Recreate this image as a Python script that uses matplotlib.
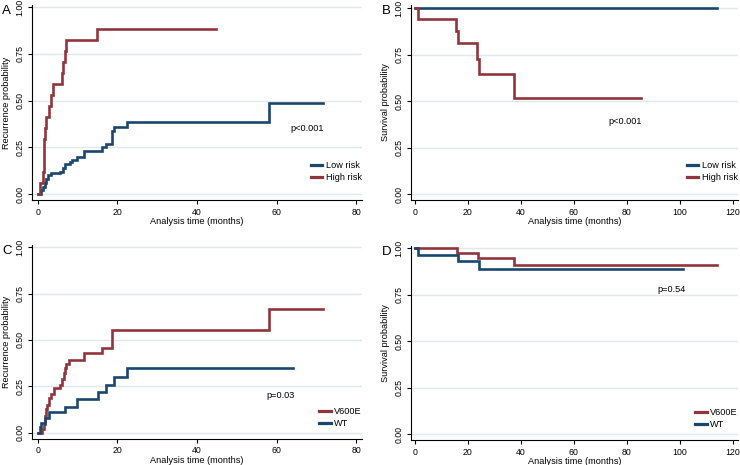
import matplotlib
matplotlib.use("Agg")
import matplotlib.pyplot as plt
from matplotlib.lines import Line2D

plt.rcParams['font.family'] = ['Liberation Sans', 'DejaVu Sans']

NAVY = "#1a476f"
MAROON = "#90353b"
GRID = "#dfe8ea"

# ---------------- Data ----------------
# Panel A: recurrence by risk group
a_low_t = [0, 0.8, 1.3, 1.7, 2.1, 2.6, 3.4, 5.5, 6.3, 6.9, 8.0, 8.6, 9.7, 11.5, 16.2, 17.0, 18.5, 18.7, 19.1, 22.5, 58.2]
a_low_v = [0, 0.02, 0.04, 0.06, 0.08, 0.10, 0.11, 0.12, 0.14, 0.16, 0.17, 0.18, 0.20, 0.23, 0.25, 0.27, 0.31, 0.34, 0.36, 0.385, 0.49]
a_low_end = 71.6
a_high_t = [0, 0.6, 1.2, 1.4, 1.5, 1.6, 1.7, 1.9, 2.8, 3.4, 3.9, 6.0, 6.3, 6.9, 7.1, 14.9]
a_high_v = [0, 0.059, 0.118, 0.176, 0.235, 0.294, 0.353, 0.412, 0.471, 0.529, 0.588, 0.647, 0.706, 0.765, 0.824, 0.882]
a_high_end = 44.9

# Panel B: survival by risk group
b_low_t = [0]
b_low_v = [1.0]
b_low_end = 114
b_high_t = [0, 1.3, 15.5, 16.4, 23.5, 24.2, 37.4]
b_high_v = [1.0, 0.941, 0.876, 0.811, 0.73, 0.649, 0.519]
b_high_end = 85.3

# Panel C: recurrence by BRAF status
c_v600e_t = [0, 1.1, 1.4, 1.7, 1.9, 2.3, 2.7, 3.4, 4.0, 5.5, 6.1, 6.6, 6.9, 7.1, 7.8, 11.5, 16.0, 18.7, 58.2]
c_v600e_v = [0, 0.02, 0.05, 0.09, 0.13, 0.15, 0.19, 0.21, 0.24, 0.26, 0.29, 0.32, 0.35, 0.37, 0.39, 0.43, 0.455, 0.555, 0.665]
c_v600e_end = 71.6
c_wt_t = [0, 0.4, 0.7, 1.7, 2.9, 6.9, 9.7, 15.1, 17.0, 19.1, 22.3]
c_wt_v = [0, 0.03, 0.055, 0.08, 0.11, 0.14, 0.18, 0.22, 0.26, 0.30, 0.35]
c_wt_end = 64.2

# Panel D: survival by BRAF status
d_v600e_t = [0, 15.7, 23.8, 37.4]
d_v600e_v = [1.0, 0.972, 0.944, 0.91]
d_v600e_end = 114
d_wt_t = [0, 1.3, 16.4, 24.2]
d_wt_v = [1.0, 0.965, 0.929, 0.889]
d_wt_end = 101.4

yticks = [0, 0.25, 0.5, 0.75, 1.0]
ytick_labels = ["0.00", "0.25", "0.50", "0.75", "1.00"]

# ---------------- Figure ----------------
W, H = 740, 465
fig = plt.figure(figsize=(W / 100, H / 100), dpi=100)

FS_TICK = 6.3
FS_LAB = 6.6


def px_axes(left, right, top, bottom):
    return fig.add_axes([left / W, 1 - bottom / H, (right - left) / W, (bottom - top) / H])


def km(ax, t, v, end, color, label):
    xs = list(t) + [end]
    ys = list(v) + [v[-1]]
    ax.step(xs, ys, where='post', color=color, lw=1.9, label=label, solid_joinstyle='miter')


def style(ax, xlim, ylim, xticks, ylabel, letter):
    ax.set_xlim(*xlim)
    ax.set_ylim(*ylim)
    ax.set_yticks(yticks)
    ax.set_yticklabels(ytick_labels, rotation=90, va='center', fontsize=FS_TICK)
    ax.set_xticks(xticks)
    ax.set_xticklabels([str(x) for x in xticks], fontsize=FS_TICK)
    for s in ['top', 'right']:
        ax.spines[s].set_visible(False)
    for s in ['left', 'bottom']:
        ax.spines[s].set_linewidth(0.8)
    ax.tick_params(direction='out', length=3, width=0.8, pad=2.6)
    ax.grid(axis='y', color=GRID, lw=1.0)
    ax.set_axisbelow(True)
    ax.set_ylabel(ylabel, fontsize=FS_LAB, labelpad=3)
    ax.set_xlabel("Analysis time (months)", fontsize=FS_LAB, labelpad=0.5)
    ax.text(-0.09, 1.0, letter, transform=ax.transAxes, fontsize=9.5, va='top', ha='left')


def legend(ax, handles, ybot):
    ax.legend(handles=handles, loc='lower right', frameon=False, fontsize=FS_LAB,
              handlelength=1.25, handletextpad=0.4, labelspacing=0.35,
              borderpad=0, borderaxespad=0, bbox_to_anchor=(1.0, ybot))


# Panel A
axA = px_axes(32, 362, 5, 200)
km(axA, a_low_t, a_low_v, a_low_end, NAVY, "Low risk")
km(axA, a_high_t, a_high_v, a_high_end, MAROON, "High risk")
style(axA, (-1.5, 81.5), (-0.032, 1.012), [0, 20, 40, 60, 80], "Recurrence probability", "A")
axA.text(67.7, 0.353, "p<0.001", fontsize=FS_LAB, ha='center', va='center')
legend(axA, [Line2D([], [], color=NAVY, lw=2.3, label="Low risk"),
             Line2D([], [], color=MAROON, lw=2.3, label="High risk")], 0.09)

# Panel B
axB = px_axes(411, 738, 5, 200)
km(axB, b_low_t, b_low_v, b_low_end, NAVY, "Low risk")
km(axB, b_high_t, b_high_v, b_high_end, MAROON, "High risk")
style(axB, (-1.5, 122.0), (-0.031, 1.018), [0, 20, 40, 60, 80, 100, 120], "Survival probability", "B")
axB.text(79.3, 0.389, "p<0.001", fontsize=FS_LAB, ha='center', va='center')
legend(axB, [Line2D([], [], color=NAVY, lw=2.3, label="Low risk"),
             Line2D([], [], color=MAROON, lw=2.3, label="High risk")], 0.09)

# Panel C
axC = px_axes(32, 362, 245, 438.7)
km(axC, c_v600e_t, c_v600e_v, c_v600e_end, MAROON, "V600E")
km(axC, c_wt_t, c_wt_v, c_wt_end, NAVY, "WT")
style(axC, (-1.5, 81.5), (-0.031, 1.011), [0, 20, 40, 60, 80], "Recurrence probability", "C")
axC.text(61.1, 0.2, "p=0.03", fontsize=FS_LAB, ha='center', va='center')
legend(axC, [Line2D([], [], color=MAROON, lw=2.3, label="V600E"),
             Line2D([], [], color=NAVY, lw=2.3, label="WT")], 0.055)

# Panel D
axD = px_axes(411, 738, 246, 440)
km(axD, d_v600e_t, d_v600e_v, d_v600e_end, MAROON, "V600E")
km(axD, d_wt_t, d_wt_v, d_wt_end, NAVY, "WT")
style(axD, (-1.5, 122.0), (-0.031, 1.011), [0, 20, 40, 60, 80, 100, 120], "Survival probability", "D")
axD.text(97, 0.775, "p=0.54", fontsize=FS_LAB, ha='center', va='center')
legend(axD, [Line2D([], [], color=MAROON, lw=2.3, label="V600E"),
             Line2D([], [], color=NAVY, lw=2.3, label="WT")], 0.055)

fig.savefig("out.png", dpi=100)
